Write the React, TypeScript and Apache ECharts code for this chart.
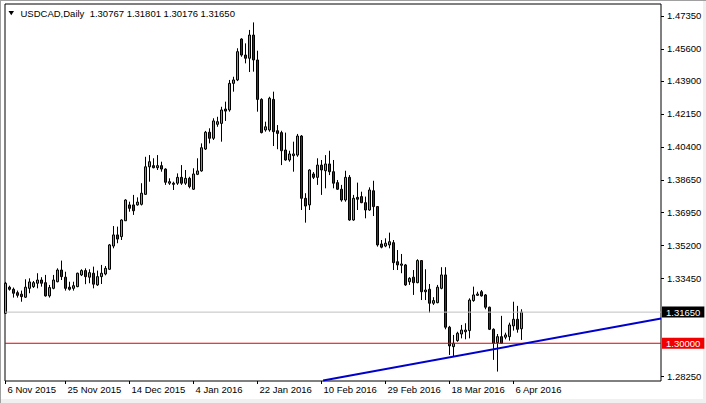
import React, { useEffect, useRef } from 'react';
import * as echarts from 'echarts';

const SYMBOL = 'USDCAD';
const PERIOD = 'Daily';

// Daily OHLC, one entry per bar (bar index = position in array)
const opens = [
  1.3159, 1.3297, 1.3286, 1.3268, 1.3260, 1.3244, 1.3291, 1.3300, 1.3318, 1.3335,
  1.3321, 1.3251, 1.3291, 1.3326, 1.3388, 1.3350, 1.3297, 1.3291, 1.3300, 1.3362,
  1.3385, 1.3350, 1.3371, 1.3309, 1.3353, 1.3367, 1.3392, 1.3515, 1.3574, 1.3565,
  1.3649, 1.3733, 1.3733, 1.3733, 1.3736, 1.3789, 1.3935, 1.3941, 1.3930, 1.3941,
  1.3923, 1.3848, 1.3848, 1.3848, 1.3879, 1.3848, 1.3874, 1.3816, 1.3895, 1.3913,
  1.4029, 1.4118, 1.4086, 1.4160, 1.4165, 1.4241, 1.4236, 1.4377, 1.4395, 1.4612,
  1.4527, 1.4510, 1.4633, 1.4501, 1.4292, 1.4130, 1.4130, 1.4292, 1.4126, 1.4116,
  1.4024, 1.3971, 1.3994, 1.3997, 1.4098, 1.3768, 1.3733, 1.3897, 1.3879, 1.3944,
  1.3914, 1.3950, 1.3909, 1.3851, 1.3816, 1.3759, 1.3879, 1.3653, 1.3773, 1.3777,
  1.3745, 1.3706, 1.3808, 1.3724, 1.3526, 1.3515, 1.3521, 1.3533, 1.3432, 1.3413,
  1.3415, 1.3326, 1.3350, 1.3321, 1.3438, 1.3273, 1.3286, 1.3212, 1.3215, 1.3291,
  1.3362, 1.3085, 1.2982, 1.3014, 1.3049, 1.3061, 1.3067, 1.3226, 1.3254, 1.3273,
  1.3256, 1.3191, 1.3074, 1.3003, 1.3035, 1.3032, 1.3035, 1.3092, 1.3127, 1.30767,
];
const closes = [
  1.3318, 1.3286, 1.3265, 1.3254, 1.3247, 1.3297, 1.3325, 1.3321, 1.3335, 1.3318,
  1.3251, 1.3295, 1.3335, 1.3388, 1.3353, 1.3291, 1.3286, 1.3305, 1.3371, 1.3385,
  1.3353, 1.3374, 1.3313, 1.3353, 1.3371, 1.3397, 1.3521, 1.3574, 1.3552, 1.3653,
  1.3759, 1.3715, 1.3702, 1.3748, 1.3795, 1.3935, 1.3962, 1.3930, 1.3941, 1.3923,
  1.3853, 1.3856, 1.3842, 1.3879, 1.3848, 1.3874, 1.3830, 1.3897, 1.3913, 1.4036,
  1.4118, 1.4086, 1.4178, 1.4174, 1.4236, 1.4230, 1.4377, 1.4395, 1.4545, 1.4527,
  1.4510, 1.4633, 1.4501, 1.4292, 1.4116, 1.4147, 1.4298, 1.4121, 1.4112, 1.4020,
  1.3971, 1.4003, 1.4003, 1.4098, 1.3768, 1.3727, 1.3918, 1.3879, 1.3944, 1.3918,
  1.3950, 1.3909, 1.3848, 1.3816, 1.3759, 1.3879, 1.3653, 1.3768, 1.3763, 1.3745,
  1.3706, 1.3812, 1.3724, 1.3521, 1.3509, 1.3530, 1.3538, 1.3427, 1.3415, 1.3420,
  1.3309, 1.3344, 1.3321, 1.3438, 1.3273, 1.3282, 1.3212, 1.3226, 1.3297, 1.3362,
  1.3085, 1.2986, 1.3000, 1.3053, 1.3070, 1.3070, 1.3229, 1.3256, 1.3261, 1.3251,
  1.3191, 1.3074, 1.3000, 1.3035, 1.3000, 1.3044, 1.3097, 1.3127, 1.3074, 1.31650,
];
const lows = [
  1.3155, 1.3279, 1.3242, 1.3242, 1.3220, 1.3240, 1.3265, 1.3293, 1.3291, 1.3300,
  1.3247, 1.3242, 1.3286, 1.3323, 1.3335, 1.3279, 1.3279, 1.3279, 1.3297, 1.3356,
  1.3313, 1.3318, 1.3291, 1.3304, 1.3314, 1.3360, 1.3388, 1.3503, 1.3530, 1.3547,
  1.3648, 1.3697, 1.3680, 1.3729, 1.3730, 1.3786, 1.3856, 1.3927, 1.3918, 1.3909,
  1.3839, 1.3839, 1.3812, 1.3839, 1.3839, 1.3839, 1.3821, 1.3812, 1.3891, 1.3909,
  1.4024, 1.4059, 1.4077, 1.4147, 1.4068, 1.4178, 1.4227, 1.4333, 1.4389, 1.4518,
  1.4483, 1.4437, 1.4439, 1.4227, 1.4112, 1.4121, 1.4121, 1.4045, 1.4028, 1.3944,
  1.3967, 1.3962, 1.3909, 1.3988, 1.3706, 1.3639, 1.3706, 1.3870, 1.3839, 1.3786,
  1.3821, 1.3891, 1.3821, 1.3812, 1.3750, 1.3750, 1.3649, 1.3649, 1.3706, 1.3742,
  1.3662, 1.3702, 1.3674, 1.3512, 1.3503, 1.3509, 1.3503, 1.3388, 1.3388, 1.3371,
  1.3304, 1.3309, 1.3256, 1.3318, 1.3229, 1.3229, 1.3162, 1.3203, 1.3212, 1.3286,
  1.3074, 1.2938, 1.2929, 1.3008, 1.3026, 1.3021, 1.3026, 1.3220, 1.3251, 1.3247,
  1.3180, 1.3070, 1.2912, 1.2850, 1.2996, 1.3021, 1.3014, 1.3067, 1.3056, 1.30176,
];
const highs = [
  1.3325, 1.3305, 1.3295, 1.3279, 1.3279, 1.3339, 1.3344, 1.3330, 1.3371, 1.3350,
  1.3362, 1.3309, 1.3362, 1.3397, 1.3438, 1.3379, 1.3326, 1.3326, 1.3374, 1.3392,
  1.3397, 1.3392, 1.3406, 1.3385, 1.3415, 1.3409, 1.3526, 1.3621, 1.3618, 1.3657,
  1.3763, 1.3750, 1.3786, 1.3773, 1.3848, 1.3988, 1.3997, 1.3980, 1.3997, 1.3962,
  1.3927, 1.3874, 1.3856, 1.3900, 1.3944, 1.3918, 1.3882, 1.3927, 1.3980, 1.4059,
  1.4125, 1.4139, 1.4192, 1.4200, 1.4253, 1.4280, 1.4395, 1.4412, 1.4563, 1.4616,
  1.4589, 1.4660, 1.4700, 1.4550, 1.4298, 1.4174, 1.4306, 1.4333, 1.4156, 1.4126,
  1.4116, 1.4020, 1.4068, 1.4109, 1.4103, 1.3795, 1.3922, 1.3907, 1.3980, 1.3971,
  1.3997, 1.4020, 1.3971, 1.3865, 1.3839, 1.3914, 1.3891, 1.3786, 1.3851, 1.3803,
  1.3777, 1.3826, 1.3861, 1.3727, 1.3547, 1.3556, 1.3586, 1.3547, 1.3494, 1.3473,
  1.3420, 1.3350, 1.3388, 1.3445, 1.3440, 1.3392, 1.3314, 1.3244, 1.3309, 1.3403,
  1.3403, 1.3092, 1.3044, 1.3061, 1.3097, 1.3106, 1.3238, 1.3300, 1.3273, 1.3282,
  1.3261, 1.3194, 1.3079, 1.3049, 1.3145, 1.3056, 1.3109, 1.3220, 1.3198, 1.31801,
];

// Time scale labels (bar index -> label)
const dateLabelBars = [0, 15, 31, 47, 63, 79, 95, 111, 127];
const dateLabels = [
  '6 Nov 2015', '25 Nov 2015', '14 Dec 2015', '4 Jan 2016', '22 Jan 2016',
  '10 Feb 2016', '29 Feb 2016', '18 Mar 2016', '6 Apr 2016',
];

// Price scale labels
const priceTicks = [1.2825, 1.3345, 1.352, 1.3695, 1.3865, 1.404, 1.4215, 1.439, 1.456, 1.4735];

// Horizontal support line and rising trend line (bar index, price)
const supportLevel = 1.3;
const trendLine = [
  [79.4, 1.2803],
  [163.9, 1.3131],
];

// Visible range (includes the empty space to the right of the last bar)
const X_MIN = -0.125;
const X_MAX = 163.875;
const Y_MIN = 1.28;
const Y_MAX = 1.47975;

const FONT = '"Liberation Sans", Arial, sans-serif';

function levelSeries(level: number, lineColor: string, boxColor: string) {
  return {
    type: 'line',
    data: [
      [X_MIN, level],
      [X_MAX, level],
    ],
    symbol: 'none',
    showSymbol: false,
    silent: true,
    clip: false,
    z: 4,
    lineStyle: { color: lineColor, width: 1, type: 'solid' },
    endLabel: {
      show: true,
      formatter: level.toFixed(5),
      distance: 1,
      color: '#ffffff',
      backgroundColor: boxColor,
      fontSize: 9.5,
      fontFamily: FONT,
      lineHeight: 10,
      padding: [1, 4, 0, 4],
    },
  };
}

export default function App() {
  const ref = useRef<HTMLDivElement>(null);

  useEffect(() => {
    document.body.style.margin = '0';
    const chart = echarts.init(ref.current!, null, { renderer: 'svg' });
    const last = closes.length - 1;
    const candleData = opens.map((o, i) => [i, o, closes[i], lows[i], highs[i]]);
    const title = `${SYMBOL},${PERIOD}  ${opens[last].toFixed(5)} ${highs[last].toFixed(5)} ${lows[last].toFixed(5)} ${closes[last].toFixed(5)}`;

    chart.setOption({
      animation: false,
      backgroundColor: '#ffffff',
      grid: {
        left: 5,
        top: 4,
        right: 45,
        bottom: 22,
        show: true,
        borderColor: '#000000',
        borderWidth: 1,
        backgroundColor: 'transparent',
      },
      xAxis: {
        type: 'value',
        min: X_MIN,
        max: X_MAX,
        axisLine: { show: false, onZero: false },
        splitLine: { show: false },
        axisTick: {
          show: true,
          customValues: dateLabelBars,
          length: 3,
          lineStyle: { color: '#000000' },
        },
        axisLabel: {
          customValues: dateLabelBars,
          formatter: (v: number) => {
            const i = dateLabelBars.indexOf(Math.round(v));
            return i >= 0 ? dateLabels[i] : '';
          },
          align: 'left',
          margin: 3,
          padding: [0, 0, 0, 2],
          color: '#000000',
          fontSize: 9.5,
          fontFamily: FONT,
        },
      },
      yAxis: {
        type: 'value',
        position: 'right',
        min: Y_MIN,
        max: Y_MAX,
        axisLine: { show: false, onZero: false },
        splitLine: { show: false },
        axisTick: {
          show: true,
          customValues: priceTicks,
          length: 3,
          lineStyle: { color: '#000000' },
        },
        axisLabel: {
          customValues: priceTicks,
          formatter: (v: number) => v.toFixed(5),
          margin: 6,
          color: '#000000',
          fontSize: 9.5,
          fontFamily: FONT,
        },
      },
      series: [
        levelSeries(closes[last], '#c0c0c0', '#000000'),
        {
          type: 'candlestick',
          data: candleData,
          encode: { x: 0, y: [1, 2, 3, 4] },
          barWidth: 2,
          z: 3,
          itemStyle: {
            color: '#3cc83c',
            color0: '#8e1414',
            borderColor: '#000000',
            borderColor0: '#000000',
            borderColorDoji: '#000000',
            borderWidth: 1,
          },
        },
        levelSeries(supportLevel, '#e00000', '#f00000'),
        {
          type: 'line',
          data: trendLine,
          symbol: 'none',
          showSymbol: false,
          silent: true,
          clip: true,
          z: 5,
          lineStyle: { color: '#0000cd', width: 2 },
        },
      ],
      graphic: [
        { type: 'rect', shape: { x: 703, y: 0, width: 3, height: 403 }, style: { fill: '#f0f0f0' }, silent: true },
        { type: 'rect', shape: { x: 0, y: 399, width: 706, height: 4 }, style: { fill: '#f0f0f0' }, silent: true },
        { type: 'line', shape: { x1: 0, y1: 0.5, x2: 706, y2: 0.5 }, style: { stroke: '#a0a0a0', lineWidth: 1 }, silent: true },
        { type: 'line', shape: { x1: 0.5, y1: 0, x2: 0.5, y2: 403 }, style: { stroke: '#a0a0a0', lineWidth: 1 }, silent: true },
        {
          type: 'polygon',
          shape: { points: [[8.5, 11], [14, 11], [11.25, 15.3]] },
          style: { fill: '#000000' },
          silent: true,
        },
        {
          type: 'text',
          x: 20.5,
          y: 13.3,
          style: {
            text: title,
            fill: '#000000',
            fontSize: 9.5,
            fontFamily: FONT,
            verticalAlign: 'middle',
          },
          silent: true,
        },
      ],
    });

    return () => chart.dispose();
  }, []);

  return (
    <div
      ref={ref}
      style={{ position: 'fixed', left: 0, top: 0, width: 706, height: 403 }}
    />
  );
}
